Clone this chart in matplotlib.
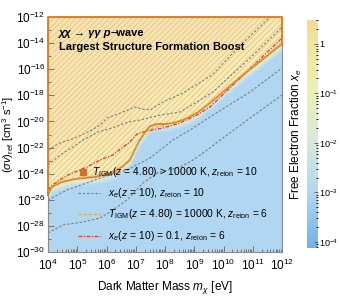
import numpy as np
import matplotlib
matplotlib.use("Agg")
import matplotlib.pyplot as plt
from matplotlib.colors import LinearSegmentedColormap, LogNorm
from matplotlib.lines import Line2D
import matplotlib.ticker as mticker

plt.rcParams['font.family'] = ['Liberation Sans', 'DejaVu Sans']
plt.rcParams['mathtext.fontset'] = 'custom'
plt.rcParams['mathtext.rm'] = 'Liberation Sans'
plt.rcParams['mathtext.it'] = 'Liberation Sans:italic'
plt.rcParams['mathtext.bf'] = 'Liberation Sans:bold'
plt.rcParams['hatch.linewidth'] = 0.6

# ---------------- data (log10 values) ----------------
# boundary of T_IGM(z=4.80) > 1e4 K region, z_reion = 10
bound_logm = [4.0, 4.14, 4.48, 4.92, 5.61, 6.19, 6.53, 6.80, 7.08, 7.32, 7.49, 7.73, 8.00, 8.27, 8.62, 9.09, 9.54, 10.56, 12.0]
bound_logsv = [-25.6, -25.0, -24.64, -24.41, -24.25, -23.95, -23.49, -22.95, -21.65, -20.81, -20.35, -20.2, -20.2, -20.12, -19.89, -19.35, -18.59, -16.63, -14.07]

# T_IGM(z=4.80) = 1e4 K, z_reion = 6
tigm6_logm = [4.0, 4.14, 4.48, 4.92, 5.61, 6.19, 6.53, 6.80, 7.08, 7.32, 7.49, 7.73, 8.00, 8.27, 8.62, 9.09, 9.54, 10.56, 12.0]
tigm6_logsv = [-25.5, -24.95, -24.58, -24.35, -24.18, -23.88, -23.42, -22.88, -21.6, -20.9, -20.6, -20.4, -20.3, -20.1, -19.85, -19.3, -18.54, -16.57, -14.0]

# x_e(z=10) = 0.1, z_reion = 6
xe01_logm = [4.0, 4.14, 4.41, 4.68, 5.33, 5.78, 6.22, 6.56, 6.80, 7.04, 7.38, 7.93, 8.51, 9.09, 9.54, 12.0]
xe01_logsv = [-25.25, -24.87, -24.48, -24.10, -23.49, -22.95, -22.57, -21.96, -21.57, -20.96, -20.73, -20.50, -20.12, -19.51, -18.89, -13.61]

# x_e(z=10) contours, z_reion = 10 (grey dashed)
c1_logm = [4.00, 4.41, 4.92, 5.50, 5.78, 6.02, 6.39, 6.74, 6.97, 7.21, 7.49, 7.93, 8.62, 9.61, 10.56, 11.59]
c1_logsv = [-22.19, -21.65, -21.27, -20.66, -20.27, -19.74, -19.43, -19.12, -18.89, -19.05, -19.12, -18.51, -17.82, -16.44, -14.22, -12.0]

c2_logm = [4.00, 4.41, 4.85, 5.20, 5.71, 6.19, 6.74, 7.15, 7.83, 8.51, 9.20, 9.64, 10.91, 12.0]
c2_logsv = [-23.34, -22.57, -21.96, -21.42, -20.81, -20.50, -20.04, -19.89, -19.51, -19.28, -18.36, -17.74, -15.14, -12.77]

c3_logm = [4.00, 4.65, 5.33, 5.78, 6.70, 7.49, 8.27, 8.85, 9.64, 10.91, 12.0]
c3_logsv = [-26.02, -25.25, -24.71, -24.33, -23.72, -22.80, -21.42, -20.66, -19.51, -17.74, -15.91]

c4_logm = [4.00, 4.51, 5.20, 5.78, 6.22, 6.70, 7.25, 7.73, 8.51, 8.96, 9.44, 9.98, 10.91, 12.0]
c4_logsv = [-28.54, -27.93, -27.70, -27.40, -26.78, -26.02, -24.71, -23.95, -23.49, -22.95, -22.19, -21.27, -19.74, -17.97]

# colour bar (free electron fraction)
cbar_ticks = [1e-4, 1e-3, 1e-2, 1e-1, 1]
cbar_labels = [r'$10^{-4}$', r'$10^{-3}$', r'$10^{-2}$', r'$10^{-1}$', '1']
xticks = [1e4, 1e5, 1e6, 1e7, 1e8, 1e9, 1e10, 1e11, 1e12]
yticks = [1e-30, 1e-28, 1e-26, 1e-24, 1e-22, 1e-20, 1e-18, 1e-16, 1e-14, 1e-12]

legend_labels = [r'$T_\mathrm{IGM}(z\,=\,4.80)$ > 10000 K, $z_\mathrm{reion}$ = 10',
                 r'$x_e(z\,=\,10)$, $z_\mathrm{reion}$ = 10',
                 r'$T_\mathrm{IGM}(z\,=\,4.80)$ = 10000 K, $z_\mathrm{reion}$ = 6',
                 r'$x_e(z\,=\,10)$ = 0.1, $z_\mathrm{reion}$ = 6']

# ---------------- figure ----------------
fig = plt.figure(figsize=(3.4, 2.99), dpi=100)
ax = fig.add_axes([48/340, 1-252/299, 234/340, 235/299])
cax = fig.add_axes([307/340, 1-248/299, 11/340, 228/299])

cmap = LinearSegmentedColormap.from_list('xe', [
    (0.0, '#70b2e8'),
    (0.25, '#b2d7f1'),
    (0.46, '#d6e8dc'),
    (0.68, '#eaf0b4'),
    (0.89, '#f2e69c'),
    (1.0, '#f1da98')])
vmin, vmax = 10**-4.12, 10**0.48
norm = LogNorm(vmin=vmin, vmax=vmax)

# background shading derived from the boundary curve
lm = np.linspace(4, 12, 500)
ls = np.linspace(-30, -12, 500)
LM, LS = np.meshgrid(lm, ls)
B = np.interp(LM, bound_logm, bound_logsv)
d = LS - B
val = np.where(d < 0, np.clip(-1.3 + 2.6 * d, -3.0, None), np.clip(-0.4 + 0.2 * d, None, 0.4))
ax.pcolormesh(10**lm, 10**ls, 10**val, cmap=cmap, norm=norm, shading='auto', rasterized=True)

# hatched region above boundary
bm = 10**np.array(bound_logm)
bs = 10**np.array(bound_logsv)
ax.fill_between(bm, bs, 1e-12, facecolor=(1, 0.97, 0.9, 0.35), edgecolor='#ebc27e',
                hatch='//////', linewidth=0)

ax.set_xscale('log')
ax.set_yscale('log')
ax.set_xlim(1e4, 1e12)
ax.set_ylim(1e-30, 1e-12)

dash_kw = dict(color='#7f7f7f', lw=0.8, ls=(0, (2.2, 1.6)))
for xm, ys in [(c1_logm, c1_logsv), (c2_logm, c2_logsv), (c3_logm, c3_logsv), (c4_logm, c4_logsv)]:
    ax.plot(10**np.array(xm), 10**np.array(ys), **dash_kw)

red_kw = dict(color='#e8352a', lw=0.9, ls=(0, (3, 1.2, 1, 1.2)))
org_kw = dict(color='#f2a33a', lw=0.9, ls=(0, (2.5, 1.5)))
ax.plot(10**np.array(xe01_logm), 10**np.array(xe01_logsv), **red_kw)
ax.plot(bm, bs, color='#d9822b', lw=1.3, solid_capstyle='butt')
ax.plot(10**np.array(tigm6_logm), 10**np.array(tigm6_logsv), **org_kw)

# boundary along axes edges
ax.plot([1e4, 1e4, 1e12, 1e12], [bs[0], 1e-12, 1e-12, bs[-1]], color='#d9822b', lw=1.4,
        clip_on=False, zorder=5)

for sp in ax.spines.values():
    sp.set_color('#8a8a8a')
    sp.set_linewidth(0.8)

ax.set_xticks(xticks)
ax.set_yticks(yticks)
ax.xaxis.set_minor_locator(mticker.LogLocator(base=10, subs=np.arange(2, 10), numticks=100))
ax.yaxis.set_minor_locator(mticker.LogLocator(base=10, subs=(1.0,), numticks=100))
ax.yaxis.set_minor_formatter(mticker.NullFormatter())
ax.xaxis.set_minor_formatter(mticker.NullFormatter())
ax.tick_params(which='both', direction='in', labelsize=8.5, color='#666666', width=0.6)
ax.tick_params(which='major', length=4)
ax.tick_params(which='minor', length=2)
ax.tick_params(axis='x', pad=4.5)
ax.tick_params(axis='y', pad=2)

ax.set_xlabel(r'Dark Matter Mass $m_\chi$ [eV]', fontsize=8.5, labelpad=4)
ax.set_ylabel(r'$(\sigma v)_\mathrm{ref}$ [cm$^3$ s$^{-1}$]', fontsize=8, labelpad=0)

t1 = ax.text(0.045, 0.955, 'χχ → γγ p', transform=ax.transAxes, fontsize=8, fontweight='bold',
             fontstyle='italic', va='top', ha='left')
ax.annotate('–wave', xy=(1, 0), xycoords=t1, fontsize=8, fontweight='bold', va='bottom', ha='left')
ax.text(0.045, 0.895, 'Largest Structure Formation Boost', transform=ax.transAxes, fontsize=8,
        fontweight='bold', va='top', ha='left')

# legend (drawn by hand to mimic the reference layout)
lx0, lx1, tx = 0.128, 0.222, 0.256
rows = [0.340, 0.251, 0.162, 0.068]
ax.plot([0.150], [rows[0]], ls='none', marker='s', ms=5, color='#c8742a', transform=ax.transAxes)
ax.text(0.188, rows[0], legend_labels[0], transform=ax.transAxes, fontsize=7.4, va='center', ha='left')
for r, kw, lab in zip(rows[1:], [dash_kw, org_kw, red_kw], legend_labels[1:]):
    ax.add_line(Line2D([lx0, lx1], [r, r], transform=ax.transAxes, **kw))
    ax.text(tx, r, lab, transform=ax.transAxes, fontsize=7.4, va='center', ha='left')

cb = fig.colorbar(plt.cm.ScalarMappable(norm=norm, cmap=cmap), cax=cax)
cb.set_ticks(cbar_ticks)
cb.set_ticklabels(cbar_labels)
cb.ax.tick_params(labelsize=6.5, direction='in', color='#555555', width=0.6, length=3, pad=1)
cb.ax.tick_params(which='minor', length=1.5, direction='in')
cb.outline.set_linewidth(0)
cb.ax.yaxis.set_label_position('left')
cb.set_label(r'Free Electron Fraction $x_e$', fontsize=8.5, labelpad=2)

fig.savefig('out.png', dpi=100)
